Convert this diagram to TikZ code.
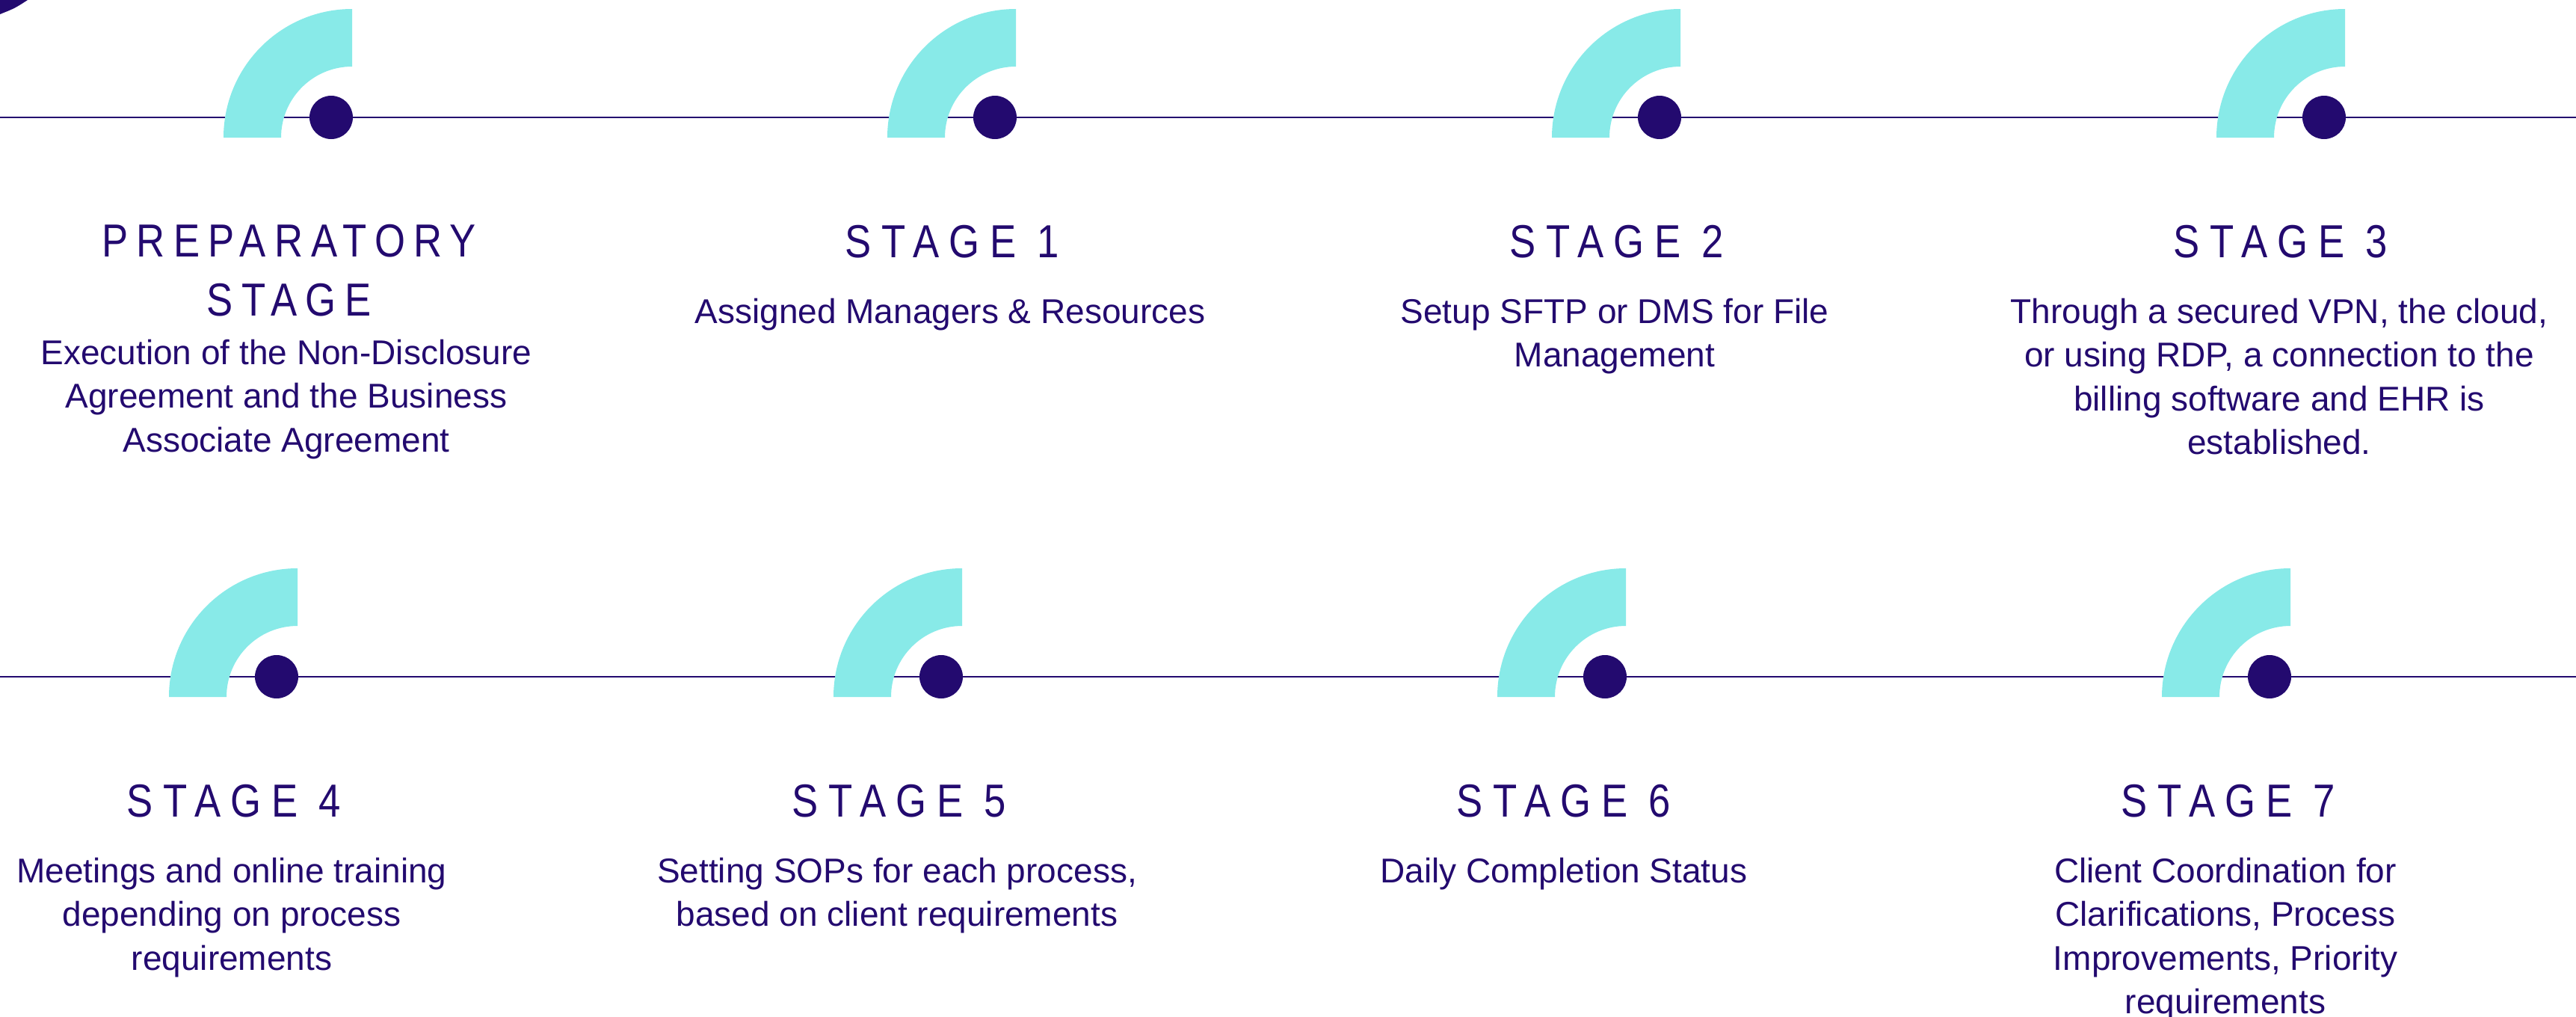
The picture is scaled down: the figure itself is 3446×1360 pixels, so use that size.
\documentclass[tikz,border=0pt]{standalone}
\usepackage{fontspec}
\setmainfont{Liberation Sans}
\newfontfamily\headfont[LetterSpace=22,FakeStretch=0.85]{Liberation Sans}
\newfontfamily\prepfont[LetterSpace=18,FakeStretch=0.85]{Liberation Sans}
\definecolor{ink}{HTML}{230A6F}
\definecolor{aqua}{HTML}{88EAE8}
\newcommand\hl[1]{#1\kern-13.5pt}
\newcommand\pl[1]{#1\kern-11.2pt}
\tikzset{
  ribbon/.style={fill=aqua},
  dotmark/.style={circle, fill=ink, minimum size=58pt, inner sep=0pt},
  rail/.style={draw=ink, line width=2.7pt},
  head/.style={anchor=base, inner sep=0pt, text=ink, font=\headfont\fontsize{62}{79}\selectfont},
  prephead/.style={anchor=base, inner sep=0pt, text=ink, font=\prepfont\fontsize{62}{79}\selectfont},
  body/.style={anchor=base, inner sep=0pt, text=ink, font=\fontsize{46}{58.5}\selectfont},
}
\begin{document}
\begin{tikzpicture}[x=1pt,y=-1pt]
\useasboundingbox (0,0) rectangle (3446,1360);
% corner wedge
\fill[ink] (0,0) -- (37,0) .. controls (20,11) .. (0,19) -- cycle;
% rails
\coordinate (l1) at (0,157);
\coordinate (r1) at (3446,157);
\coordinate (l2) at (0,905);
\coordinate (r2) at (3446,905);
\draw[rail] (l1) -- (r1);
\draw[rail] (l2) -- (r2);
% ribbons
\foreach \cx in {471,1359,2248,3137}{
  \fill[ribbon] (\cx-172,184) arc[start angle=180,end angle=270,radius=172]
    -- (\cx,89) arc[start angle=270,end angle=180,radius=95] -- cycle;
}
\foreach \cx in {398,1287,2175,3064}{
  \fill[ribbon] (\cx-172,932) arc[start angle=180,end angle=270,radius=172]
    -- (\cx,837) arc[start angle=270,end angle=180,radius=95] -- cycle;
}
% dots
\node[dotmark] (d0) at (443,157) {};
\node[dotmark] (d1) at (1331,157) {};
\node[dotmark] (d2) at (2220,157) {};
\node[dotmark] (d3) at (3109,157) {};
\node[dotmark] (d4) at (370,905) {};
\node[dotmark] (d5) at (1259,905) {};
\node[dotmark] (d6) at (2147,905) {};
\node[dotmark] (d7) at (3036,905) {};
% headings
\node[prephead] (h0) at (381,343) {\begin{tabular}[t]{@{}c@{}}\pl{PREPARATORY}\\\pl{STAGE}\end{tabular}};
\node[head] (h1) at (1267,344) {\hl{STAGE 1}};
\node[head] (h2) at (2156,344) {\hl{STAGE 2}};
\node[head] (h3) at (3044,344) {\hl{STAGE 3}};
\node[head] (h4) at (306,1092) {\hl{STAGE 4}};
\node[head] (h5) at (1196,1092) {\hl{STAGE 5}};
\node[head] (h6) at (2085,1092) {\hl{STAGE 6}};
\node[head] (h7) at (2974,1092) {\hl{STAGE 7}};
% bodies
\node[body] (b0) at (383,487) {\begin{tabular}[t]{@{}c@{}}Execution of the Non-Disclosure\\Agreement and the Business\\Associate Agreement\end{tabular}};
\node[body] (b1) at (1271,432) {Assigned Managers \& Resources};
\node[body] (b2) at (2160,432) {\begin{tabular}[t]{@{}c@{}}Setup SFTP or DMS for File\\Management\end{tabular}};
\node[body] (b3) at (3049,432) {\begin{tabular}[t]{@{}c@{}}Through a secured VPN, the cloud,\\or using RDP, a connection to the\\billing software and EHR is\\established.\end{tabular}};
\node[body] (b4) at (310,1180) {\begin{tabular}[t]{@{}c@{}}Meetings and online training\\depending on process\\requirements\end{tabular}};
\node[body] (b5) at (1200,1180) {\begin{tabular}[t]{@{}c@{}}Setting SOPs for each process,\\based on client requirements\end{tabular}};
\node[body] (b6) at (2092,1180) {Daily Completion Status};
\node[body] (b7) at (2977,1180) {\begin{tabular}[t]{@{}c@{}}Client Coordination for\\Clarifications, Process\\Improvements, Priority\\requirements\end{tabular}};
\end{tikzpicture}
\end{document}
